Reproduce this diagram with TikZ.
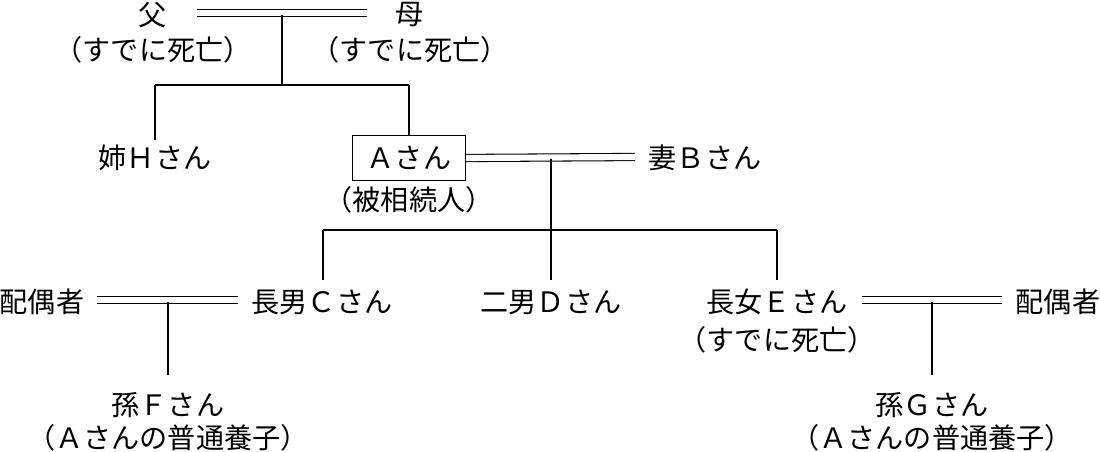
\documentclass[tikz,border=0pt]{standalone}
\usepackage{fontspec}
\setmainfont{Noto Sans CJK JP}
\begin{document}
\begin{tikzpicture}[x=0.02cm,y=-0.02cm,
  t/.style={inner sep=1pt,font=\fontsize{16pt}{18pt}\selectfont},
  ln/.style={line width=0.6pt},
  dbl/.style={double,double distance=3.5pt,line width=0.6pt}]
\useasboundingbox (0,0) rectangle (1100,452);
\node[t] (fa) at (153,15) {父};
\node[t] (fad) at (153,50) {（すでに死亡）};
\node[t] (mo) at (410,15) {母};
\node[t] (mod) at (410,50) {（すでに死亡）};
\coordinate (p1) at (197,13); \coordinate (p2) at (367,13);
\draw[dbl] (p1) -- (p2);
\coordinate (m1) at (282,15); \coordinate (m2) at (282,85);
\coordinate (h1) at (155,85); \coordinate (h2) at (409,85);
\coordinate (hd) at (155,140);
\node[t] (H) at (155,158) {姉Ｈさん};
\node[t,draw,line width=0.6pt,minimum width=113*0.02cm,minimum height=45*0.02cm] (A) at (409,158) {Ａさん};
\node[t] (Ad) at (409,200) {（被相続人）};
\draw[ln] (m1) -- (m2) (h1) -- (h2) (h1) -- (hd) (h2) -- (A.north);
\node[t] (B) at (705,158) {妻Ｂさん};
\coordinate (q2) at (635,157);
\draw[dbl] (A.east) -- (q2);
\coordinate (n1) at (551,159); \coordinate (n2) at (551,230);
\coordinate (k1) at (323,230); \coordinate (k2) at (777,230);
\coordinate (k1d) at (323,280); \coordinate (k2d) at (777,280); \coordinate (n3) at (551,280);
\draw[ln] (n1) -- (n3) (k1) -- (k2) (k1) -- (k1d) (k2) -- (k2d);
\node[t] (sC) at (42,302) {配偶者};
\node[t] (C) at (322,302) {長男Ｃさん};
\node[t] (D) at (551,302) {二男Ｄさん};
\node[t] (E) at (777,302) {長女Ｅさん};
\node[t] (Ed) at (777,340) {（すでに死亡）};
\node[t] (sE) at (1058,302) {配偶者};
\coordinate (c1) at (97,300); \coordinate (c2) at (238,300);
\coordinate (e1) at (862,300); \coordinate (e2) at (1002,300);
\draw[dbl] (c1) -- (c2) (e1) -- (e2);
\coordinate (f1) at (168,302); \coordinate (f2) at (168,375);
\coordinate (g1) at (932,302); \coordinate (g2) at (932,375);
\draw[ln] (f1) -- (f2) (g1) -- (g2);
\node[t] (F) at (168,405) {孫Ｆさん};
\node[t] (Fd) at (168,438) {（Ａさんの普通養子）};
\node[t] (G) at (932,405) {孫Ｇさん};
\node[t] (Gd) at (932,438) {（Ａさんの普通養子）};
\end{tikzpicture}
\end{document}
